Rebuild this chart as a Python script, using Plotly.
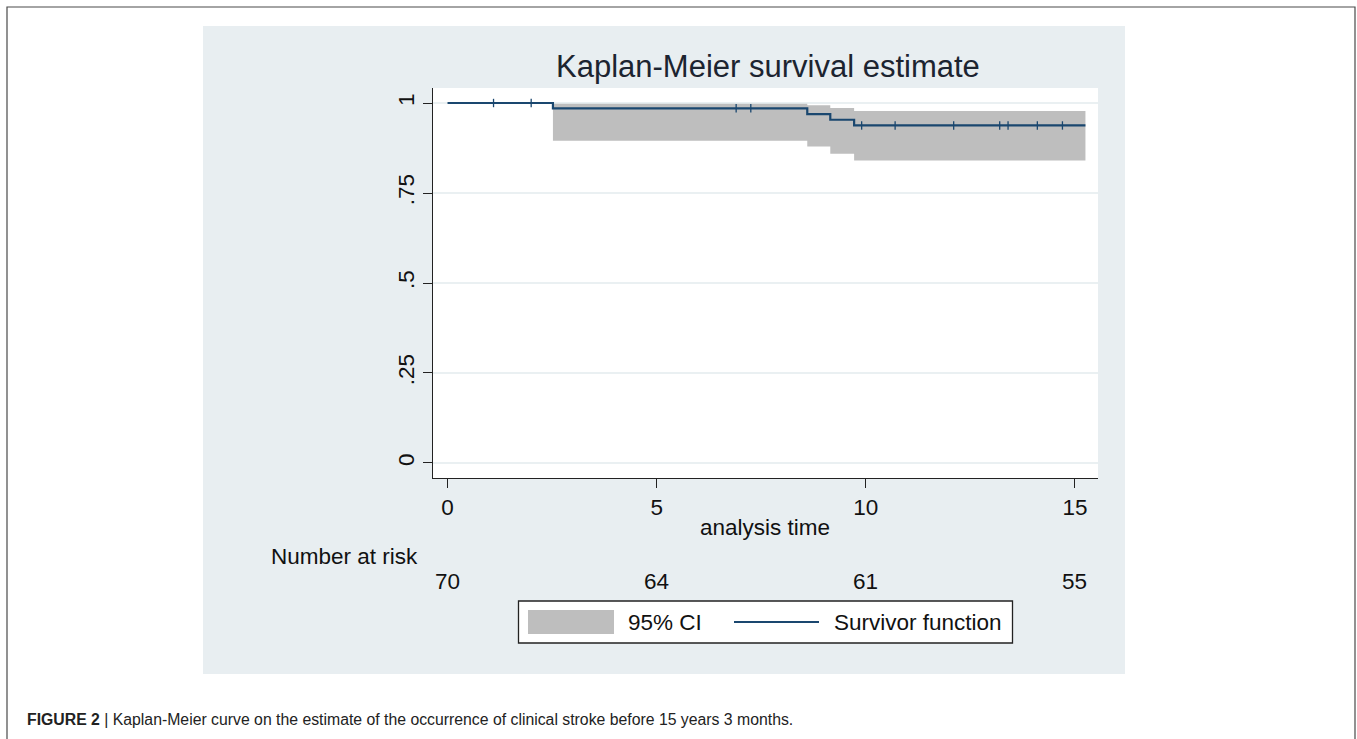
import numpy as np
import plotly.graph_objects as go

W, H = 1357, 739

# ---- data ----
event_times = [0.0, 2.52, 8.6, 9.15, 9.72]
survival = [1.0, 0.9853, 0.9694, 0.9535, 0.9376]
end_time = 15.25
ci_times = [2.52, 8.6, 9.15, 9.72]
ci_lower = [0.895, 0.879, 0.859, 0.840]
ci_upper = [0.998, 0.994, 0.986, 0.978]
censor_times = [1.1, 2.0, 6.9, 7.25, 9.9, 10.7, 12.1, 13.2, 13.4, 14.1, 14.7]
risk_times = [0, 5, 10, 15]
risk_counts = [70, 64, 61, 55]
x_ticks = [0, 5, 10, 15]
y_ticks = [0, 0.25, 0.5, 0.75, 1]
y_ticktext = ["0", ".25", ".5", ".75", "1"]

NAVY = "#1a476f"
CIGRAY = "#bebebe"
PANEL = "#e8eef1"
GRID = "#eaf0f2"
FONT = "Liberation Sans, Arial, sans-serif"
SMALL = 22.5


def px(x):
    return x / W


def py(y):
    return 1 - y / H


fig = go.Figure()

# CI band
fig.add_trace(go.Scatter(
    x=ci_times + [end_time], y=ci_lower + [ci_lower[-1]],
    mode="lines", line=dict(width=0, shape="hv", color=CIGRAY),
    showlegend=False, hoverinfo="skip"))
fig.add_trace(go.Scatter(
    x=ci_times + [end_time], y=ci_upper + [ci_upper[-1]],
    mode="lines", line=dict(width=0, shape="hv", color=CIGRAY),
    fill="tonexty", fillcolor=CIGRAY, name="95% CI", showlegend=False))

# survivor function
fig.add_trace(go.Scatter(
    x=event_times + [end_time], y=survival + [survival[-1]],
    mode="lines", line=dict(color=NAVY, width=2.2, shape="hv"),
    name="Survivor function", showlegend=False))

# censoring marks
idx = np.searchsorted(np.array(event_times), np.array(censor_times), side="right") - 1
censor_s = [survival[i] for i in idx]
fig.add_trace(go.Scatter(
    x=censor_times, y=censor_s, mode="markers",
    marker=dict(symbol="line-ns", size=6, line=dict(color=NAVY, width=1.3)),
    showlegend=False, hoverinfo="skip"))

# layout geometry (pixels)
ax_l, ax_r, ax_t, ax_b = 433, 1098, 88, 478

shapes = [
    # outer frame
    dict(type="rect", xref="paper", yref="paper", x0=px(7), x1=px(1355), y0=py(760), y1=py(7),
         line=dict(color="#4a4a4a", width=1.2), fillcolor="rgba(0,0,0,0)", layer="below"),
    # graph region
    dict(type="rect", xref="paper", yref="paper", x0=px(203), x1=px(1125), y0=py(674), y1=py(26),
         line=dict(width=0), fillcolor=PANEL, layer="below"),
    # plot region (white)
    dict(type="rect", xref="paper", yref="paper", x0=px(ax_l), x1=px(ax_r), y0=py(ax_b), y1=py(ax_t),
         line=dict(width=0), fillcolor="white", layer="below"),
    # legend box
    dict(type="rect", xref="paper", yref="paper", x0=px(518.5), x1=px(1012.5), y0=py(643), y1=py(601),
         line=dict(color="#222222", width=1.3), fillcolor="white", layer="above"),
    # legend CI patch
    dict(type="rect", xref="paper", yref="paper", x0=px(528), x1=px(614), y0=py(634), y1=py(610),
         line=dict(width=0), fillcolor=CIGRAY, layer="above"),
    # legend line sample
    dict(type="line", xref="paper", yref="paper", x0=px(734), x1=px(819), y0=py(622), y1=py(622),
         line=dict(color=NAVY, width=2.2), layer="above"),
]

ann = [
    dict(text="Kaplan-Meier survival estimate", x=px(767.5), y=py(67), xref="paper", yref="paper",
         xanchor="center", yanchor="middle", showarrow=False,
         font=dict(size=31, color="#1c2430", family=FONT)),
    dict(text="analysis time", x=px(765), y=py(527), xref="paper", yref="paper",
         xanchor="center", yanchor="middle", showarrow=False,
         font=dict(size=SMALL, color="#111111", family=FONT)),
    dict(text="Number at risk", x=px(269), y=py(556), xref="paper", yref="paper",
         xanchor="left", yanchor="middle", showarrow=False,
         font=dict(size=SMALL, color="#111111", family=FONT)),
    dict(text="95% CI", x=px(626), y=py(622), xref="paper", yref="paper",
         xanchor="left", yanchor="middle", showarrow=False,
         font=dict(size=SMALL, color="#111111", family=FONT)),
    dict(text="Survivor function", x=px(832), y=py(622), xref="paper", yref="paper",
         xanchor="left", yanchor="middle", showarrow=False,
         font=dict(size=SMALL, color="#111111", family=FONT)),
    dict(text="<b>FIGURE 2</b> | Kaplan-Meier curve on the estimate of the occurrence of clinical stroke before 15 years 3 months.",
         x=px(25), y=py(719), xref="paper", yref="paper",
         xanchor="left", yanchor="middle", showarrow=False,
         font=dict(size=15.8, color="#222222", family=FONT)),
]
for t, n in zip(risk_times, risk_counts):
    ann.append(dict(text=str(n), x=t, y=py(581), xref="x", yref="paper",
                    xanchor="center", yanchor="middle", showarrow=False,
                    font=dict(size=SMALL, color="#111111", family=FONT)))

fig.update_layout(
    width=W, height=H, autosize=False,
    margin=dict(l=0, r=0, t=0, b=0),
    paper_bgcolor="white", plot_bgcolor="white",
    showlegend=False,
    shapes=shapes, annotations=ann,
    font=dict(family=FONT, color="#111111"),
    xaxis=dict(
        domain=[px(ax_l), px(ax_r)], range=[-0.347, 15.55],
        tickvals=x_ticks, ticks="outside", ticklen=9, tickwidth=1.2, tickcolor="#222222",
        showline=True, linecolor="#222222", linewidth=1.3, showgrid=False, zeroline=False,
        tickfont=dict(size=SMALL, color="#111111", family=FONT), anchor="y",
    ),
    yaxis=dict(
        domain=[py(ax_b), py(ax_t)], range=[-0.0417, 1.0417],
        tickvals=y_ticks, ticktext=y_ticktext, tickangle=-90,
        ticks="outside", ticklen=9, tickwidth=1.2, tickcolor="#222222",
        showline=True, linecolor="#222222", linewidth=1.3,
        showgrid=True, gridcolor=GRID, gridwidth=1.5, zeroline=False,
        tickfont=dict(size=SMALL, color="#111111", family=FONT), anchor="x",
    ),
)

fig.write_html("out.html", config={"displayModeBar": False},
               post_script="document.body.style.margin='0';document.body.style.overflow='hidden';")
